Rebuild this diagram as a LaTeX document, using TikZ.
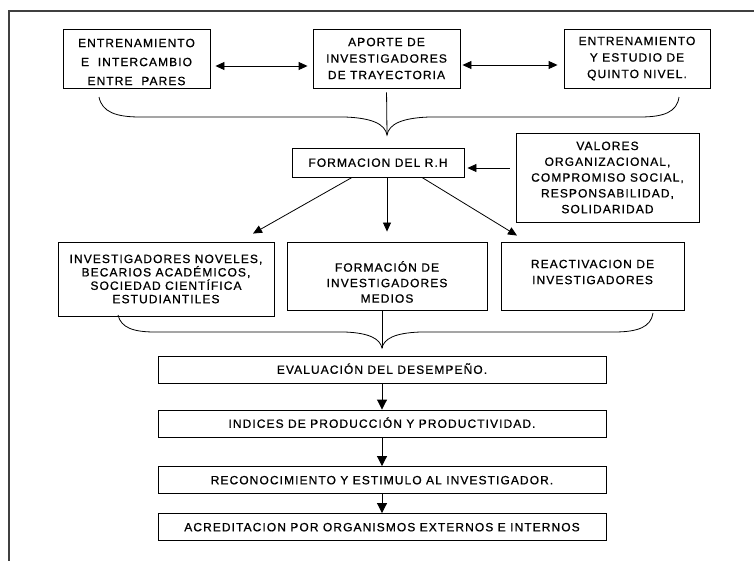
\documentclass[tikz,border=0pt]{standalone}
\usepackage{fontspec}
\setmainfont{Liberation Sans}[LetterSpace=9, FakeBold=0.8]
\usetikzlibrary{arrows.meta, positioning}

\newcommand{\setlead}[1]{\fontsize{12}{#1}\selectfont}

\begin{document}
\begin{tikzpicture}[x=1pt, y=-1pt,
    box/.style={rectangle, draw=black, line width=0.9pt, inner sep=0pt,
                text centered, font=\setlead{16}},
    row/.style={box, minimum width=448pt, minimum height=27pt,
                text height=8.6pt, text depth=0pt},
    arrow/.style={-{Triangle[length=9pt, width=8pt]}, line width=0.8pt},
    twoway/.style={{Triangle[length=9pt, width=8pt]}-{Triangle[length=9pt, width=8pt]}, line width=0.9pt},
    down/.style={-{Triangle[length=10pt, width=10pt]}, line width=0.9pt},
    brace/.style={line width=0.8pt}]

    \useasboundingbox (0,0) rectangle (754,560);
    \clip (0,0) rectangle (754,560);
    \draw[line width=1.2pt, black!75] (9,11) rectangle (800,600);

    % Nodes - top row
    \node[box, minimum width=147pt, minimum height=59pt, font=\setlead{19}] (entpares) at (136.5,58.5)
        {\parbox{140pt}{\vspace{7pt}\centering ENTRENAMIENTO\\E\ \ INTERCAMBIO\\ENTRE\ \ PARES}};
    \node[box, minimum width=147pt, minimum height=59pt, font=\setlead{16.5}] (aporte) at (386.5,58.5)
        {\parbox{140pt}{\centering APORTE DE\\INVESTIGADORES\\DE TRAYECTORIA}};
    \node[box, minimum width=146pt, minimum height=59pt, font=\setlead{16.5}] (quinto) at (637,58.5)
        {\parbox{140pt}{\centering ENTRENAMIENTO\\Y ESTUDIO DE\\QUINTO NIVEL.}};

    % Nodes - middle
    \node[box, minimum width=172pt, minimum height=29pt, text height=8.6pt, text depth=0pt] (formacion) at (378,162.5) {FORMACION DEL R.H};
    \node[box, minimum width=183pt, minimum height=89pt, font=\setlead{15.8}] (valores) at (607.5,177.5)
        {\parbox{178pt}{\centering VALORES\\ORGANIZACIONAL,\\COMPROMISO SOCIAL,\\RESPONSABILIDAD,\\SOLIDARIDAD}};
    \node[box, minimum width=216pt, minimum height=74pt, font=\setlead{13.4}] (noveles) at (166,279)
        {\parbox{212pt}{\centering INVESTIGADORES NOVELES,\\BECARIOS ACADÉMICOS,\\SOCIEDAD CIENTÍFICA\\ESTUDIANTILES}};
    \node[box, minimum width=200pt, minimum height=68pt, font=\setlead{15.5}] (medios) at (387,276)
        {\parbox{195pt}{\vspace{12pt}\centering FORMACIÓN DE\\INVESTIGADORES\\MEDIOS}};
    \node[box, minimum width=183pt, minimum height=68pt] (reactiva) at (592.5,276)
        {\parbox{178pt}{\centering REACTIVACION DE\\INVESTIGADORES\par\vskip8pt\hrule height0pt}};

    % Nodes - bottom chain
    \node[row] (evaluacion) at (382,369.5) {EVALUACIÓN DEL DESEMPEÑO.};
    \node[row] (indices) at (382,423.5) {INDICES DE PRODUCCIÓN Y PRODUCTIVIDAD.};
    \node[row] (reconoce) at (382,480) {RECONOCIMIENTO Y ESTIMULO AL INVESTIGADOR.};
    \node[row] (acredita) at (382,527) {ACREDITACION POR ORGANISMOS EXTERNOS E INTERNOS};

    \coordinate (tipa) at (387,135);
    \coordinate (tipb) at (382,348);

    % Arrows
    \draw[twoway, shorten <=5pt, shorten >=5pt] ([yshift=-7.5pt]entpares.east) -- ([yshift=-7.5pt]aporte.west);
    \draw[twoway, shorten <=2pt, shorten >=6pt] ([yshift=-6.5pt]aporte.east) -- ([yshift=-6.5pt]quinto.west);

    \draw[brace] (99,97) .. controls (102,112) and (116,117) .. (140,117) -- (345,117)
        .. controls (372,118) and (385,124) .. (tipa) .. controls (389,124) and (402,118) .. (429,117)
        -- (640,117) .. controls (664,117) and (677,112) .. (679,97);
    \draw[brace, shorten <=4pt] (aporte.south) -- (tipa);

    \draw[arrow, shorten <=6pt, shorten >=3pt] ([yshift=9.5pt]valores.west) -- ([yshift=-5.5pt]formacion.east);
    \draw[arrow] ([xshift=-26pt]formacion.south) -- ([xshift=87pt, yshift=8pt]noveles.north);
    \draw[arrow] (formacion.south -| medios.north) -- ([yshift=10pt]medios.north);
    \draw[arrow] ([xshift=44pt]formacion.south) -- ([xshift=-75.5pt, yshift=6pt]reactiva.north);

    \draw[brace] (118,315) .. controls (121,328) and (134,332) .. (155,332) -- (345,332)
        .. controls (370,333) and (380,339) .. (tipb) .. controls (384,339) and (394,333) .. (420,332)
        -- (614,332) .. controls (638,332) and (651,327) .. (653,313);
    \draw[brace] ([xshift=-5pt]medios.south) -- (tipb);

    \draw[down] (evaluacion) -- (indices);
    \draw[down] (indices) -- (reconoce);
    \draw[down] (reconoce) -- (acredita);

\end{tikzpicture}
\end{document}
